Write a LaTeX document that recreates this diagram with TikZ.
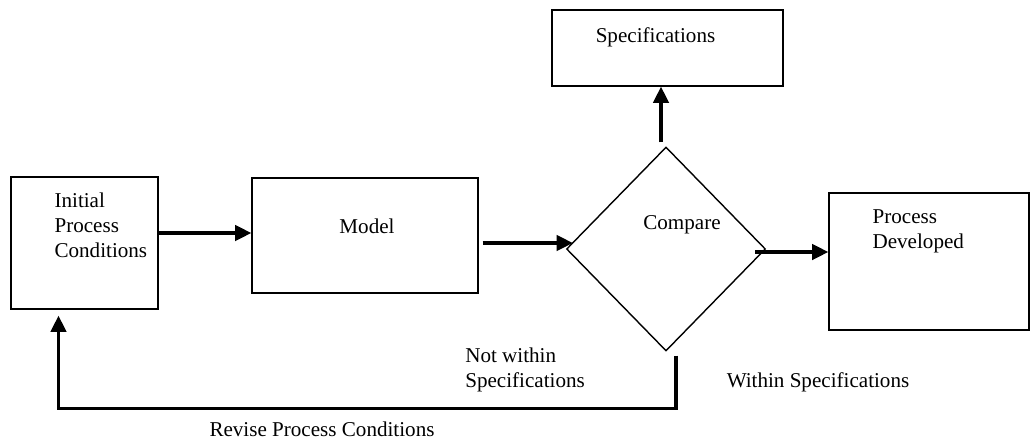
\documentclass[tikz,border=0pt]{standalone}
\usepackage{fontspec}
\setmainfont{Liberation Serif}
\usetikzlibrary{shapes.geometric,positioning,arrows.meta}
\usetikzlibrary{calc}

\begin{document}
\begin{tikzpicture}[x=0.025cm,y=-0.025cm,>={Triangle[length=11.5pt,width=11pt]},
    box/.style={draw,line width=1pt,rectangle,inner sep=0pt},
    arrow/.style={line width=2.2pt,->},
    txt/.style={font=\fontsize{15}{18}\selectfont,inner sep=0pt,align=left}]
    \useasboundingbox (0,0) rectangle (1031,441);
    % Boxes
    \node[box,minimum width=147*0.025cm,minimum height=132*0.025cm] (initial) at (84.5,243) {};
    \node[box,minimum width=226*0.025cm,minimum height=115*0.025cm] (model) at (365,235.5) {};
    \node[box,minimum width=231*0.025cm,minimum height=76*0.025cm] (spec) at (667.5,48) {};
    \node[box,minimum width=200*0.025cm,minimum height=137*0.025cm] (process) at (929,261.5) {};
    % Compare
    \node[draw,line width=1pt,diamond,inner sep=0pt,minimum width=199*0.025cm,minimum height=204*0.025cm] (compare) at (666,249) {};
    % Texts
    \node[txt,anchor=west] (initialtxt) at ($(initial.north west)+(44,49)$) {Initial\\Process\\Conditions};
    \node[txt] (modeltxt) at ($(model.north)+(2,49)$) {Model};
    \node[txt] (spectxt) at ($(spec.north)+(-12,28)$) {Specifications};
    \node[txt] (comparetxt) at ($(compare.center)+(16,-24)$) {Compare};
    \node[txt,anchor=west] (processtxt) at ($(process.north west)+(44,39)$) {Process\\Developed};
    % Arrows
    \draw[arrow] ($(initial.east)+(0,-10)$) coordinate (a1) -- (a1 -| model.west);
    \draw[arrow] ($(model.east)+(4,7.5)$) coordinate (a2) -- ($(a2 -| compare.west)+(7,0)$);
    \draw[arrow] ($(compare.north)+(-5,-4)$) coordinate (a3) -- (a3 |- spec.south);
    \draw[arrow] ($(compare.east)+(-11,3)$) coordinate (a4) -- (a4 -| process.west);
    % Feedback
    \draw[arrow] ($(compare.south)+(10,4)$) -- ++(0,53) coordinate (fb) -| ($(initial.south)+(-26,6)$);
    \node[txt,anchor=west] (notwithin) at ($(fb)+(-211,-39)$) {Not within\\Specifications};
    \node[txt] (within) at ($(fb)+(142,-26)$) {Within Specifications};
    \node[txt] (revise) at ($(fb)+(-354,21)$) {Revise Process Conditions};
\end{tikzpicture}
\end{document}
